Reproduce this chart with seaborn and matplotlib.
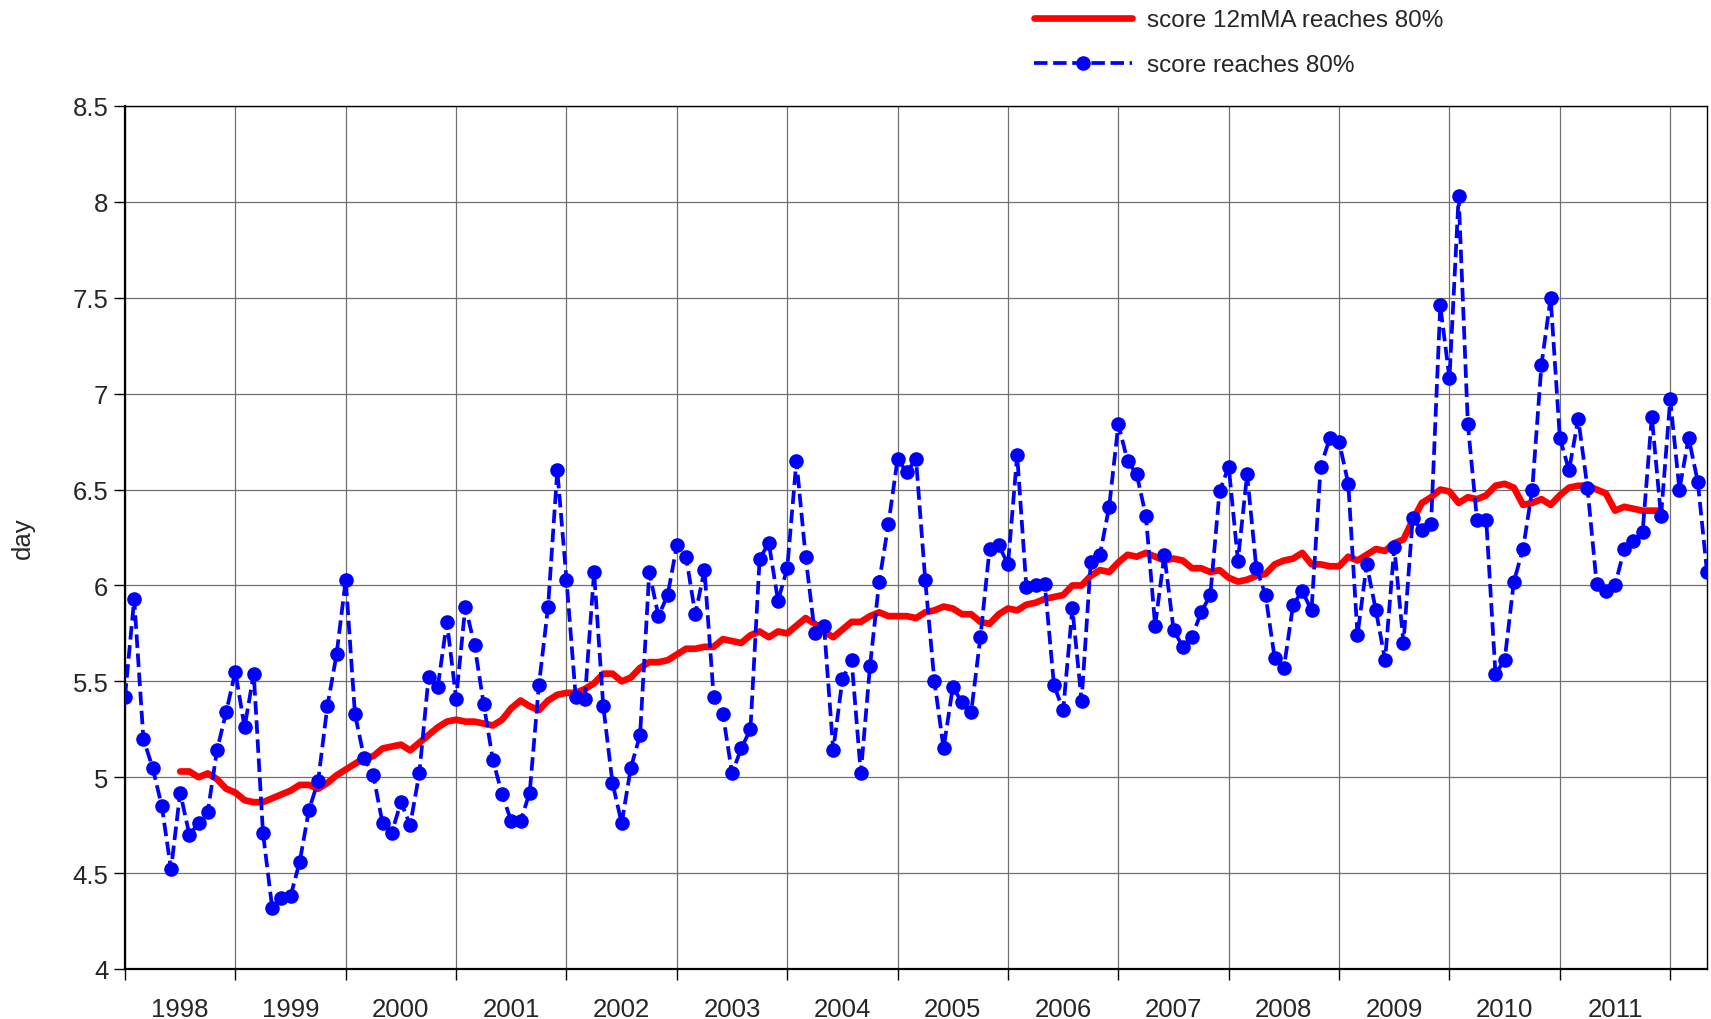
import numpy as np
import pandas as pd
import matplotlib
matplotlib.use("Agg")
import matplotlib.pyplot as plt
import seaborn as sns

# monthly values, first point = start of 1998
score = [5.42, 5.93, 5.20, 5.05, 4.85, 4.52, 4.92, 4.70, 4.76, 4.82, 5.14, 5.34,
         5.55, 5.26, 5.54, 4.71, 4.32, 4.37, 4.38, 4.56, 4.83, 4.98, 5.37, 5.64,
         6.03, 5.33, 5.10, 5.01, 4.76, 4.71, 4.87, 4.75, 5.02, 5.52, 5.47, 5.81,
         5.41, 5.89, 5.69, 5.38, 5.09, 4.91, 4.77, 4.77, 4.92, 5.48, 5.89, 6.60,
         6.03, 5.42, 5.41, 6.07, 5.37, 4.97, 4.76, 5.05, 5.22, 6.07, 5.84, 5.95,
         6.21, 6.15, 5.85, 6.08, 5.42, 5.33, 5.02, 5.15, 5.25, 6.14, 6.22, 5.92,
         6.09, 6.65, 6.15, 5.75, 5.79, 5.14, 5.51, 5.61, 5.02, 5.58, 6.02, 6.32,
         6.66, 6.59, 6.66, 6.03, 5.50, 5.15, 5.47, 5.39, 5.34, 5.73, 6.19, 6.21,
         6.11, 6.68, 5.99, 6.00, 6.01, 5.48, 5.35, 5.88, 5.40, 6.12, 6.16, 6.41,
         6.84, 6.65, 6.58, 6.36, 5.79, 6.16, 5.77, 5.68, 5.73, 5.86, 5.95, 6.49,
         6.62, 6.13, 6.58, 6.09, 5.95, 5.62, 5.57, 5.90, 5.97, 5.87, 6.62, 6.77,
         6.75, 6.53, 5.74, 6.11, 5.87, 5.61, 6.20, 5.70, 6.35, 6.29, 6.32, 7.46,
         7.08, 8.03, 6.84, 6.34, 6.34, 5.54, 5.61, 6.02, 6.19, 6.50, 7.15, 7.50,
         6.77, 6.60, 6.87, 6.51, 6.01, 5.97, 6.00, 6.19, 6.23, 6.28, 6.88, 6.36,
         6.97, 6.50, 6.77, 6.54, 6.07]

# 12 month moving average, starts 6 months in
ma_start = 6
score_ma = [5.03, 5.03, 5.00, 5.02, 4.99, 4.94, 4.92, 4.88, 4.87, 4.87, 4.89, 4.91,
            4.93, 4.96, 4.96, 4.94, 4.97, 5.01, 5.04, 5.07, 5.10, 5.11, 5.15, 5.16,
            5.17, 5.14, 5.18, 5.22, 5.26, 5.29, 5.30, 5.29, 5.29, 5.28, 5.27, 5.30,
            5.36, 5.40, 5.37, 5.35, 5.40, 5.43, 5.44, 5.44, 5.46, 5.49, 5.54, 5.54,
            5.50, 5.52, 5.57, 5.60, 5.60, 5.61, 5.64, 5.67, 5.67, 5.68, 5.68, 5.72,
            5.71, 5.70, 5.74, 5.76, 5.73, 5.76, 5.75, 5.79, 5.83, 5.80, 5.76, 5.73,
            5.77, 5.81, 5.81, 5.84, 5.86, 5.84, 5.84, 5.84, 5.83, 5.86, 5.87, 5.89,
            5.88, 5.85, 5.85, 5.81, 5.80, 5.85, 5.88, 5.87, 5.90, 5.91, 5.93, 5.94,
            5.95, 6.00, 6.00, 6.05, 6.08, 6.07, 6.12, 6.16, 6.15, 6.17, 6.15, 6.13,
            6.14, 6.13, 6.09, 6.09, 6.07, 6.08, 6.04, 6.02, 6.03, 6.05, 6.06, 6.11,
            6.13, 6.14, 6.17, 6.11, 6.11, 6.10, 6.10, 6.15, 6.13, 6.16, 6.19, 6.18,
            6.22, 6.24, 6.34, 6.43, 6.46, 6.50, 6.49, 6.43, 6.46, 6.45, 6.47, 6.52,
            6.53, 6.51, 6.42, 6.43, 6.45, 6.42, 6.47, 6.51, 6.52, 6.52, 6.50, 6.48,
            6.39, 6.41, 6.40, 6.39, 6.39, 6.39]

years = ['1998', '1999', '2000', '2001', '2002', '2003', '2004',
         '2005', '2006', '2007', '2008', '2009', '2010', '2011']

df = pd.DataFrame({'month': np.arange(len(score)), 'score': score})
df_ma = pd.DataFrame({'month': np.arange(ma_start, ma_start + len(score_ma)), 'score': score_ma})

sns.set_style("white")
plt.rcParams['font.family'] = ['Liberation Sans', 'DejaVu Sans']

fig = plt.figure(figsize=(17.11, 10.2), dpi=100)
ax = fig.add_axes([125/1711, 1 - 970/1020, (1707 - 125)/1711, (970 - 107)/1020])

sns.lineplot(data=df_ma, x='month', y='score', ax=ax, color='#ff0000', linewidth=4.8,
             label='score 12mMA reaches 80%', zorder=3)
sns.lineplot(data=df, x='month', y='score', ax=ax, color='#0000ff', linewidth=2.7,
             linestyle=(0, (3.6, 1.5)), marker='o', markersize=10.5, markeredgewidth=0,
             label='score reaches 80%', zorder=4)

ax.set_xlim(0, len(score) - 1)
ax.set_ylim(4, 8.5)
yt = np.arange(4, 8.51, 0.5)
ax.set_yticks(yt)
ax.set_yticklabels(['%g' % v for v in yt])
ax.set_xticks(np.arange(0, 169, 12))
ax.set_xticklabels([])
ax.set_xticks(np.arange(6, 6 + 12 * len(years), 12), minor=True)
ax.set_xticklabels(years, minor=True)

ax.grid(True, which='major', color='#707070', linewidth=0.9)
ax.tick_params(axis='x', which='major', direction='out', length=8, width=1, color='black', bottom=True)
ax.tick_params(axis='x', which='minor', length=0, pad=20, labelsize=18.5)
ax.tick_params(axis='y', direction='out', length=8, width=1, color='black', left=True,
               labelsize=18.5, pad=4)
for s in ax.spines.values():
    s.set_color('black')
    s.set_linewidth(1.0)
ax.spines['bottom'].set_linewidth(1.6)
ax.spines['left'].set_linewidth(1.6)

ax.set_xlabel('')
ax.set_ylabel('day', fontsize=18.5)
ax.yaxis.set_label_coords(-0.057, 0.5)

ax.legend_.remove()
h, l = ax.get_legend_handles_labels()
fig.legend(h, l, loc='upper left', bbox_to_anchor=(1027/1711, 0.997), frameon=False,
           fontsize=17.5, handlelength=4.0, handletextpad=0.63, labelspacing=0.95,
           borderpad=0.3, borderaxespad=0)

fig.savefig('out.png', dpi=100)
